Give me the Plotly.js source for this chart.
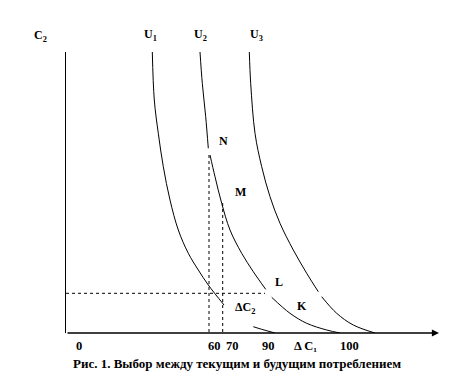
<!DOCTYPE html>
<html>
<head>
<meta charset="utf-8">
<script src="https://cdn.plot.ly/plotly-3.0.1.min.js"></script>
<style>
html,body{margin:0;padding:0;background:#fff;}
#chart{width:452px;height:385px;}
</style>
</head>
<body>
<div id="chart"></div>
<script>
// Indifference curves (x = C1 scale units, y = C2 scale units)
const curveNames = ['U1', 'U2', 'U3'];
const u1X = [86.3, 88.3, 92.3, 97.3, 104, 112.3, 122.3, 132.3, 142.3, 158, null, 187.3, 195.7, 209];
const u1Y = [281, 233, 199.7, 166.3, 133, 103, 79.7, 63, 48, 28, null, 6.3, 3.7, 0];
const u2X = [134, 136.3, 139.7, 142.3, null, 144, 149, 155.7, 164, 175.7, 187.3, 199.7, null, 205.7, 224, 240.7, 260.7, 274];
const u2Y = [281, 249.7, 216.3, 184.7, null, 178, 156.3, 129.7, 103, 79.7, 61.3, 43.7, null, 35.7, 19.7, 9.7, 3, 0];
const u3X = [183.3, 184.7, 189, 195.7, 204, 214, 227.3, 240.7, 252.3, null, 255.7, 270.7, 287.3, 309];
const u3Y = [281, 249.7, 199.7, 166.3, 136.3, 109.7, 83, 59.7, 41.3, null, 36.3, 19.7, 8, 0];

// Guide (dotted) lines
const guideX1 = [143, 143];      const guideY1 = [178, 0];
const guideX2 = [156.7, 156.7];  const guideY2 = [130, 0];
const guideX3 = [0, 199];        const guideY3 = [39.7, 39.7];

// Text
const tickLabels = ['0', '60', '70', '90', 'Δ C₁', '100'];
const pointLabels = ['N', 'M', 'L', 'ΔC<sub>2</sub>', 'K'];
const curveLabels = ['U<sub>1</sub>', 'U<sub>2</sub>', 'U<sub>3</sub>'];
const yAxisLabel = 'C<sub>2</sub>';
const caption = 'Рис. 1. Выбор между текущим и будущим потреблением';

const FONT = 'Liberation Serif';
const lineStyle = {color: '#000', width: 1, shape: 'spline', smoothing: 1};
const dotStyle = {color: '#000', width: 1, dash: 'dot'};

const traces = [
  {x: u1X, y: u1Y, mode: 'lines', line: lineStyle, connectgaps: false, hoverinfo: 'skip', name: curveNames[0]},
  {x: u2X, y: u2Y, mode: 'lines', line: lineStyle, connectgaps: false, hoverinfo: 'skip', name: curveNames[1]},
  {x: u3X, y: u3Y, mode: 'lines', line: lineStyle, connectgaps: false, hoverinfo: 'skip', name: curveNames[2]},
  {x: guideX1, y: guideY1, mode: 'lines', line: dotStyle, hoverinfo: 'skip'},
  {x: guideX2, y: guideY2, mode: 'lines', line: dotStyle, hoverinfo: 'skip'},
  {x: guideX3, y: guideY3, mode: 'lines', line: dotStyle, hoverinfo: 'skip'}
];

const W = 452, H = 385, ML = 66, MR = 6, MT = 52, MB = 52;
const px2paperX = (px) => (px - ML) / (W - ML - MR);
const px2paperY = (py) => (H - MB - py) / (H - MT - MB);
const boldFont = (s) => ({family: FONT, size: s, color: '#000'});
const annotations = [];
const label = (t, px, py, size) => annotations.push({
  x: px2paperX(px), y: px2paperY(py), xref: 'paper', yref: 'paper',
  text: '<b>' + t + '</b>', showarrow: false, font: boldFont(size),
  xanchor: 'center', yanchor: 'middle'});

// x-axis arrow
annotations.push({x: 373, y: 0, xref: 'x', yref: 'y', ax: 0, ay: 0, axref: 'x', ayref: 'y',
  text: '', showarrow: true, arrowhead: 2, arrowsize: 1.1, arrowwidth: 1.3, arrowcolor: '#000'});

// tick labels under the axis
const tickPx = [79, 214, 232, 268, 305, 349];
tickLabels.forEach((t, i) => label(t, tickPx[i], 346, 12.5));

// point labels
const ptPx = [[223, 141], [240, 192], [279, 282], [245, 308], [302, 306]];
pointLabels.forEach((t, i) => label(t, ptPx[i][0], ptPx[i][1], 12));

// curve labels and axis label
const topPx = [150, 200, 256];
curveLabels.forEach((t, i) => label(t, topPx[i], 35, 12));
label(yAxisLabel, 40, 36, 12);

// caption
label(caption, 237, 363, 13);

const layout = {
  width: W, height: H,
  margin: {l: ML, r: MR, t: MT, b: MB, pad: 0},
  paper_bgcolor: '#fff', plot_bgcolor: '#fff',
  showlegend: false,
  xaxis: {range: [0, 380], showgrid: false, zeroline: false, showline: false, showticklabels: false, ticks: '', fixedrange: true},
  yaxis: {range: [0, 281], showgrid: false, zeroline: false, showline: true, linecolor: '#000', linewidth: 1.2,
    showticklabels: false, ticks: '', fixedrange: true},
  annotations: annotations
};

Plotly.newPlot('chart', traces, layout, {staticPlot: true, displayModeBar: false});
</script>
</body>
</html>
